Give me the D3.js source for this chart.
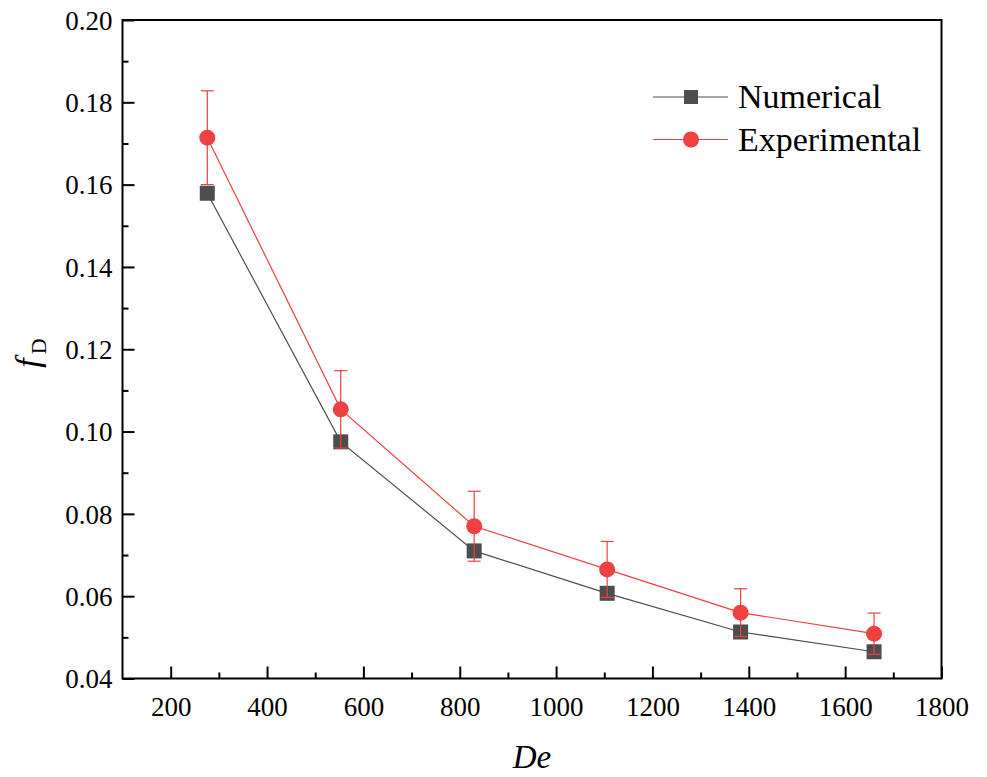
<!DOCTYPE html>
<html lang="en">
<head>
  <meta charset="UTF-8">
  <title>fD vs De</title>
  <style>
    body { margin: 0; background: #fff; }
    svg { display: block; }
    text { font-family: "Liberation Serif", "Times New Roman", serif; fill: #000; }
  </style>
</head>
<body>
<svg width="987" height="777"></svg>
<script src="https://d3js.org/d3.v7.min.js"></script>
<script>
  // data
  const deValues = [276, 553, 830, 1106, 1383, 1660];
  const numerical = [0.1579, 0.0975, 0.0710, 0.0607, 0.0513, 0.0465];
  const experimental = [0.1714, 0.1054, 0.0770, 0.0665, 0.0560, 0.0509];
  const expError = [0.0114, 0.0094, 0.0085, 0.0068, 0.0058, 0.0050];
  const xTicks = [200, 400, 600, 800, 1000, 1200, 1400, 1600, 1800];
  const yTicks = [0.04, 0.06, 0.08, 0.10, 0.12, 0.14, 0.16, 0.18, 0.20];

  const serif = '"Liberation Serif", "Times New Roman", serif';
  const svg = d3.select("svg").style("font-family", serif);
  const plotLeft = 122.5, plotRight = 941.5, plotTop = 20, plotBottom = 678.5;

  const x = d3.scaleLinear().domain([100, 1800]).range([plotLeft, plotRight]);
  const y = d3.scaleLinear().domain([0.04, 0.20]).range([plotBottom, plotTop]);

  const grey = "#4d4d4d";
  const red = "#f04040";

  // frame
  svg.append("rect")
    .attr("x", plotLeft).attr("y", plotTop)
    .attr("width", plotRight - plotLeft).attr("height", plotBottom - plotTop)
    .attr("fill", "none").attr("stroke", "#000").attr("stroke-width", 2);

  // x axis, ticks inside
  const xAxis = d3.axisBottom(x).tickValues(xTicks).tickSize(-12).tickPadding(18)
    .tickFormat(d3.format("d"));
  const gx = svg.append("g").attr("transform", `translate(0,${plotBottom})`).call(xAxis);
  const xMinor = d3.axisBottom(x).tickValues(d3.range(300, 1800, 200)).tickSize(-6).tickFormat("");
  const gxm = svg.append("g").attr("transform", `translate(0,${plotBottom})`).call(xMinor);

  // y axis, ticks inside
  const yAxis = d3.axisLeft(y).tickValues(yTicks).tickSize(-12).tickPadding(10)
    .tickFormat(d3.format(".2f"));
  const gy = svg.append("g").attr("transform", `translate(${plotLeft},0)`).call(yAxis);
  const yMinor = d3.axisLeft(y).tickValues(d3.range(0.05, 0.2, 0.02)).tickSize(-6).tickFormat("");
  const gym = svg.append("g").attr("transform", `translate(${plotLeft},0)`).call(yMinor);

  [gx, gxm, gy, gym].forEach(g => {
    g.attr("font-family", null).style("font-family", serif);
    g.select(".domain").remove();
    g.selectAll(".tick line").attr("stroke", "#000").attr("stroke-width", 2);
    g.selectAll(".tick text")
      .style("font-family", serif)
      .style("font-size", "27px").attr("fill", "#000");
  });
  gy.selectAll(".tick text").attr("dy", "0.34em");

  // axis titles
  svg.append("text")
    .attr("x", (plotLeft + plotRight) / 2).attr("y", 768)
    .attr("text-anchor", "middle")
    .style("font-size", "33px").attr("font-style", "italic")
    .text("De");

  const yt = svg.append("text")
    .attr("transform", `translate(39,353) rotate(-90)`)
    .attr("text-anchor", "middle")
    .style("font-size", "34px");
  yt.append("tspan").attr("font-style", "italic").text("f");
  yt.append("tspan").style("font-size", "22px").attr("dx", 4).attr("dy", 7).text("D");

  const line = d3.line().x((d, i) => x(deValues[i])).y(d => y(d));

  // numerical series
  svg.append("path").datum(numerical)
    .attr("d", line).attr("fill", "none").attr("stroke", grey).attr("stroke-width", 1.2);
  svg.selectAll(".sq").data(numerical).enter().append("rect")
    .attr("x", (d, i) => x(deValues[i]) - 7.5)
    .attr("y", d => y(d) - 7.5)
    .attr("width", 15).attr("height", 15)
    .attr("fill", grey);

  // error bars
  const eb = svg.selectAll(".eb").data(experimental).enter().append("g");
  eb.append("line")
    .attr("x1", (d, i) => x(deValues[i])).attr("x2", (d, i) => x(deValues[i]))
    .attr("y1", (d, i) => y(d - expError[i])).attr("y2", (d, i) => y(d + expError[i]));
  eb.append("line")
    .attr("x1", (d, i) => x(deValues[i]) - 6.5).attr("x2", (d, i) => x(deValues[i]) + 6.5)
    .attr("y1", (d, i) => y(d + expError[i])).attr("y2", (d, i) => y(d + expError[i]));
  eb.append("line")
    .attr("x1", (d, i) => x(deValues[i]) - 6.5).attr("x2", (d, i) => x(deValues[i]) + 6.5)
    .attr("y1", (d, i) => y(d - expError[i])).attr("y2", (d, i) => y(d - expError[i]));
  eb.selectAll("line").attr("stroke", red).attr("stroke-width", 1.2);

  // experimental series
  svg.append("path").datum(experimental)
    .attr("d", line).attr("fill", "none").attr("stroke", red).attr("stroke-width", 1.2);
  svg.selectAll(".ci").data(experimental).enter().append("circle")
    .attr("cx", (d, i) => x(deValues[i]))
    .attr("cy", d => y(d))
    .attr("r", 8)
    .attr("fill", red);

  // legend
  const legend = [
    { name: "Numerical", color: grey, shape: "square", y: 97 },
    { name: "Experimental", color: red, shape: "circle", y: 139.5 }
  ];
  legend.forEach(l => {
    svg.append("line")
      .attr("x1", 653).attr("x2", 728)
      .attr("y1", l.y).attr("y2", l.y)
      .attr("stroke", l.color).attr("stroke-width", 1.2);
    if (l.shape === "square") {
      svg.append("rect").attr("x", 691 - 7).attr("y", l.y - 7)
        .attr("width", 14).attr("height", 14).attr("fill", l.color);
    } else {
      svg.append("circle").attr("cx", 691).attr("cy", l.y).attr("r", 8).attr("fill", l.color);
    }
    svg.append("text")
      .attr("x", 738).attr("y", l.y + 11)
      .style("font-size", "34px")
      .text(l.name);
  });
</script>
</body>
</html>
